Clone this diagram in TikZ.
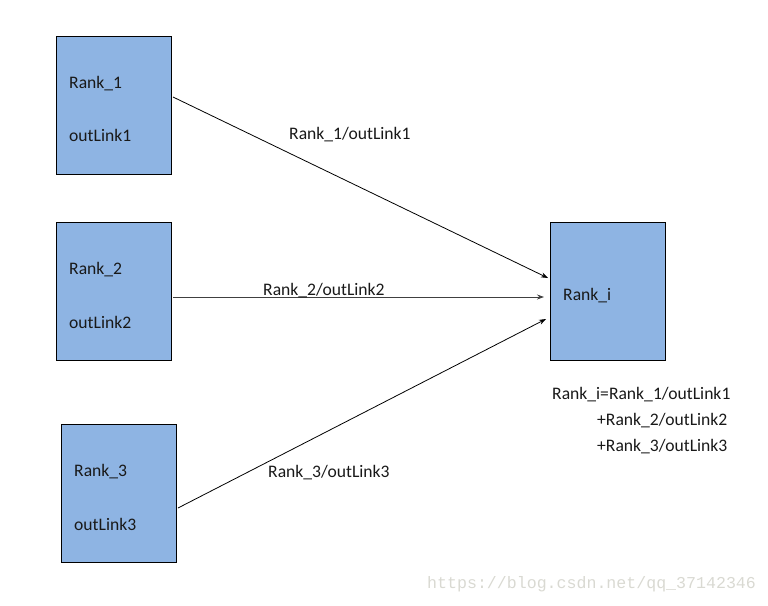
\documentclass[tikz,border=0pt]{standalone}
\usepackage{fontspec}
\setmainfont{Carlito}
\newfontfamily\wmfont{Liberation Mono}
\usetikzlibrary{arrows.meta}
\definecolor{boxblue}{HTML}{8EB4E3}
\definecolor{wmgrey}{HTML}{D9D9D2}
\begin{document}
\begin{tikzpicture}[x=1pt,y=-1pt,
  rbox/.style={draw=black,line width=0.8pt,fill=boxblue,minimum width=115pt,minimum height=138pt,inner sep=0pt},
  lbl/.style={font=\fontsize{17.6}{20}\selectfont,anchor=west,inner sep=0pt,text=black!90,yshift=-2pt},
  conn/.style={line width=0.8pt,-{Stealth[length=7pt,width=5pt]}}]
\useasboundingbox (0,0) rectangle (768,605);
\node[rbox] (b1) at (113.5,105) {};
\node[rbox] (b2) at (113.5,291) {};
\node[rbox] (b3) at (118.5,493) {};
\node[rbox] (bi) at (607.5,291) {};
\node[lbl] (r1) at (69,82) {Rank\_1};
\node[lbl] (o1) at (69,133) {outLink1};
\node[lbl] (r2) at (69,268) {Rank\_2};
\node[lbl] (o2) at (69,320) {outLink2};
\node[lbl] (r3) at (74,470) {Rank\_3};
\node[lbl] (o3) at (74,522) {outLink3};
\node[lbl] (ri) at (563,294) {Rank\_i};
\coordinate (s1) at (173,97);
\coordinate (s2) at (173,297);
\coordinate (s3) at (178,508);
\coordinate (e1) at (548,278);
\coordinate (e2) at (544,297);
\coordinate (e3) at (546,319);
\draw[conn] (s1) -- (e1);
\draw[conn,draw=black!75] (s2) -- (e2);
\draw[conn] (s3) -- (e3);
\node[lbl] (l1) at (289,133) {Rank\_1/outLink1};
\node[lbl] (l2) at (263,289) {Rank\_2/outLink2};
\node[lbl] (l3) at (268,471) {Rank\_3/outLink3};
\node[lbl] (f1) at (552,393) {Rank\_i=Rank\_1/outLink1};
\node[lbl] (f2) at (597,419) {+Rank\_2/outLink2};
\node[lbl] (f3) at (597,445) {+Rank\_3/outLink3};
\node[anchor=west,inner sep=0pt,text=wmgrey,font=\wmfont\fontsize{16.6}{18}\selectfont] (wm) at (427,584) {https://blog.csdn.net/qq\_37142346};
\end{tikzpicture}
\end{document}
